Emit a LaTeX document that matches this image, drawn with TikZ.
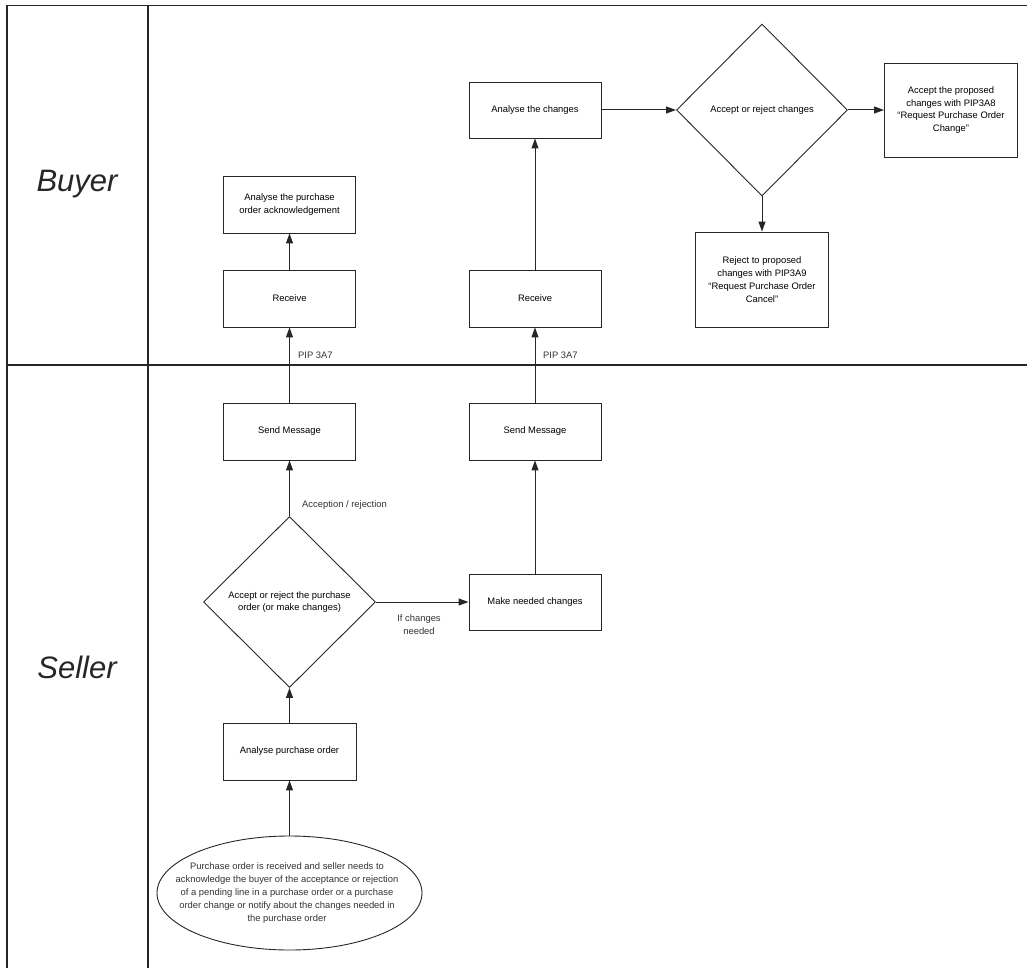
\documentclass[tikz,border=0pt]{standalone}
\usepackage{fontspec}
\setmainfont{Liberation Sans}
\usetikzlibrary{shapes.geometric,arrows.meta}
\begin{document}
\begin{tikzpicture}[x=1pt,y=-1pt,
  font=\fontsize{9.4}{12.8}\selectfont,
  lane/.style={line width=1.1pt, draw=black!85},
  stepbox/.style={draw=black!85, line width=0.9pt, rectangle, inner sep=0pt, align=center},
  decision/.style={draw=black!85, line width=0.9pt, diamond, inner sep=0pt, align=center},
  flow/.style={line width=1pt, draw=black!85, -{Triangle[length=10pt,width=7pt]}},
  lbl/.style={inner sep=0pt, text=black!80},
  lanename/.style={font=\fontsize{31}{36}\selectfont\itshape, text=black!85}]
\useasboundingbox (0,0) rectangle (1027,968);

% swimlane frame
\draw[lane] (1027,5.5) -- (7,5.5) -- (7,968);
\draw[lane] (148,5.5) -- (148,968);
\draw[lane] (7,365) -- (1027,365);
\node[lanename] (buyer) at (77,184) {Buyer};
\node[lanename] (seller) at (77,667) {Seller};

% seller lane
\node[ellipse, draw=black!85, line width=0.9pt, minimum width=265, minimum height=114, inner sep=0pt] (start) at (289.5,893) {};
\node[lbl, align=center] (starttext) at (287,893) {Purchase order is received and seller needs to\\acknowledge the buyer of the acceptance or rejection\\of a pending line in a purchase order or a purchase\\order change or notify about the changes needed in\\the purchase order};
\node[stepbox, minimum width=133, minimum height=57] (anpo) at (289.5,751.5) {Analyse purchase order};
\node[decision, minimum width=172, minimum height=171] (dec1) at (289.5,602) {Accept or reject the purchase\\order (or make changes)};
\node[stepbox, minimum width=132, minimum height=57] (send1) at (289.5,431.5) {Send Message};
\node[stepbox, minimum width=132, minimum height=56] (make) at (535,602) {Make needed changes};
\node[stepbox, minimum width=132, minimum height=57] (send2) at (535,431.5) {Send Message};

% buyer lane
\node[stepbox, minimum width=132, minimum height=57] (recv1) at (289.5,298.5) {Receive};
\node[stepbox, minimum width=132, minimum height=57] (ack) at (289.5,204.5) {Analyse the purchase\\order acknowledgement};
\node[stepbox, minimum width=132, minimum height=57] (recv2) at (535,298.5) {Receive};
\node[stepbox, minimum width=132, minimum height=56] (anch) at (535,110) {Analyse the changes};
\node[decision, minimum width=171, minimum height=172] (dec2) at (762,110) {Accept or reject changes};
\node[stepbox, minimum width=133, minimum height=94] (accept) at (951,110) {Accept the proposed\\changes with PIP3A8\\``Request Purchase Order\\Change''};
\node[stepbox, minimum width=133, minimum height=95] (reject) at (762,279.5) {Reject to proposed\\changes with PIP3A9\\``Request Purchase Order\\Cancel''};

% connectors
\draw[flow] (start.north) -- (anpo.south);
\draw[flow] (anpo.north) -- (dec1.south);
\draw[flow] (dec1.north) -- (send1.south);
\draw[flow] (send1.north) -- (recv1.south);
\draw[flow] (recv1.north) -- (ack.south);
\draw[flow] (dec1.east) -- (make.west);
\draw[flow] (make.north) -- (send2.south);
\draw[flow] (send2.north) -- (recv2.south);
\draw[flow] (recv2.north) -- (anch.south);
\draw[flow] (anch.east) -- (dec2.west);
\draw[flow] (dec2.east) -- (accept.west);
\draw[flow] (dec2.south) -- (reject.north);

% connector labels
\node[lbl, anchor=west] (acc) at (302,505) {Acception / rejection};
\node[lbl, anchor=west] (pip1) at (298,355) {PIP 3A7};
\node[lbl, anchor=west] (pip2) at (543,355) {PIP 3A7};
\node[lbl, align=center] (ifch) at (419,625) {If changes\\needed};
\end{tikzpicture}
\end{document}
